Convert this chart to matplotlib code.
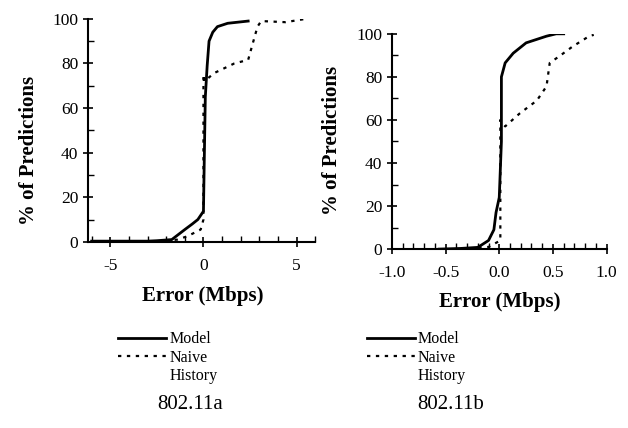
import matplotlib.pyplot as plt
from matplotlib.ticker import MultipleLocator

plt.rcParams['font.family'] = ['Liberation Serif', 'DejaVu Serif']
plt.rcParams['axes.unicode_minus'] = False

# 802.11a: error (Mbps) vs % of predictions
a_model_x = [-6.0, -3.0, -2.5, -1.7, -1.0, -0.6, -0.3, 0.0, 0.05, 0.1, 0.2, 0.3, 0.5, 0.75, 1.3, 2.4]
a_model_y = [0.3, 0.3, 0.5, 1.0, 5.5, 8.0, 10.0, 13.7, 40.0, 65.0, 79.0, 90.0, 94.0, 96.5, 98.0, 99.0]
a_naive_x = [-2.5, -1.4, -0.86, -0.15, 0.0, 0.0, 0.0, 0.0, 0.0, 0.05, 0.58, 1.66, 2.4, 2.6, 2.9, 3.1, 4.4, 5.5]
a_naive_y = [0.0, 1.0, 2.5, 5.5, 10.0, 20.0, 40.0, 60.0, 75.0, 72.0, 75.7, 80.0, 81.6, 87.6, 96.5, 99.0, 98.5, 100.0]

# 802.11b
b_model_x = [-0.56, -0.36, -0.2, -0.1, -0.05, -0.03, 0.0, 0.02, 0.02, 0.055, 0.13, 0.25, 0.44, 0.53, 0.6]
b_model_y = [0.0, 0.3, 0.8, 4.0, 9.0, 17.0, 24.0, 50.0, 80.0, 86.5, 91.0, 95.8, 98.9, 100.0, 100.0]
b_naive_x = [-0.36, -0.1, 0.01, 0.01, 0.01, 0.01, 0.055, 0.19, 0.35, 0.44, 0.47, 0.56, 0.68, 0.84, 0.88]
b_naive_y = [0.0, 1.0, 4.0, 20.0, 40.0, 60.0, 57.0, 63.0, 69.0, 75.6, 86.5, 89.6, 94.0, 99.0, 99.5]

fig = plt.figure(figsize=(6.28, 4.28), dpi=100)
ax1 = fig.add_axes([0.140, 0.435, 0.362, 0.521])
ax2 = fig.add_axes([0.624, 0.418, 0.342, 0.503])

panels = [
    (ax1, a_model_x, a_model_y, a_naive_x, a_naive_y, (-6.2, 6.0), 5, 1),
    (ax2, b_model_x, b_model_y, b_naive_x, b_naive_y, (-1.0, 1.0), 0.5, 0.1),
]

for ax, mx, my, nx, ny, xlim, major, minor in panels:
    ax.plot(mx, my, color='black', lw=2.0, label='Model')
    ax.plot(nx, ny, color='black', lw=1.6, linestyle=(0, (1.5, 2.5)), label='Naive')
    ax.plot([], [], color='none', label='History')
    ax.set_xlim(*xlim)
    ax.set_ylim(0, 100)
    ax.spines['top'].set_visible(False)
    ax.spines['right'].set_visible(False)
    ax.spines['left'].set_linewidth(1.5)
    ax.spines['bottom'].set_linewidth(1.5)
    ax.xaxis.set_major_locator(MultipleLocator(major))
    ax.xaxis.set_minor_locator(MultipleLocator(minor))
    ax.yaxis.set_major_locator(MultipleLocator(20))
    ax.yaxis.set_minor_locator(MultipleLocator(10))
    ax.tick_params(which='major', direction='inout', length=7, width=1.2, labelsize=12.5)
    ax.tick_params(axis='x', which='major', pad=8)
    ax.tick_params(which='minor', direction='in', length=4, width=1.0)
    ax.set_xlabel('Error (Mbps)', fontsize=15, fontweight='bold')
    ax.set_ylabel('% of Predictions', fontsize=15, fontweight='bold')

ax2.xaxis.set_major_formatter(plt.FuncFormatter(lambda v, p: f'{v:.1f}'))

ax1.xaxis.set_label_coords(0.507, -0.20)
ax1.yaxis.set_label_coords(-0.215, 0.41)
ax2.xaxis.set_label_coords(0.5, -0.20)
ax2.yaxis.set_label_coords(-0.232, 0.507)

for ax, lx, cx, cap in [(ax1, 0.188, 0.303, '802.11a'), (ax2, 0.584, 0.717, '802.11b')]:
    ax.legend(loc='upper left', bbox_to_anchor=(lx, 0.226), bbox_transform=fig.transFigure,
              frameon=False, fontsize=11.5, handlelength=3.0, labelspacing=0.15,
              handletextpad=0.2, borderpad=0, borderaxespad=0)
    fig.text(cx, 0.054, cap, ha='center', va='center', fontsize=15)

fig.savefig('out.png', dpi=100)
